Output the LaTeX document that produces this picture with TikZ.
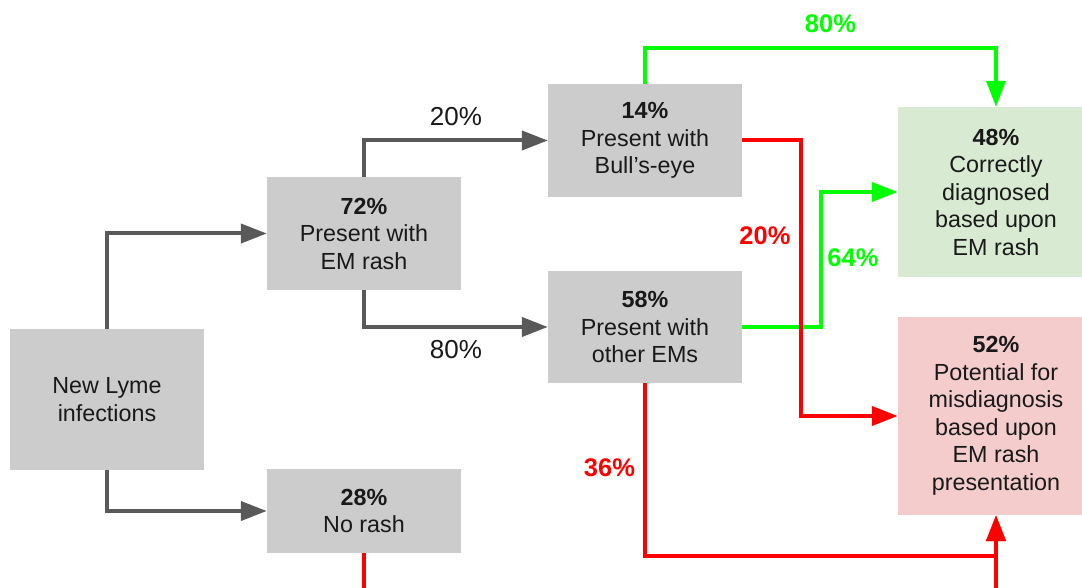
\documentclass[tikz,border=0pt]{standalone}
\usepackage{fontspec}
\setmainfont{Liberation Sans}
\usetikzlibrary{arrows.meta}
\definecolor{boxgray}{HTML}{CCCCCC}
\definecolor{boxgreen}{HTML}{D9EAD3}
\definecolor{boxpink}{HTML}{F4CCCC}
\definecolor{lingray}{HTML}{595959}
\definecolor{lingreen}{HTML}{00FF00}
\definecolor{linred}{HTML}{FF0000}
\tikzset{
  box/.style={fill=boxgray, draw=none, inner sep=0pt, align=center,
    font=\fontsize{23.3}{27.5}\selectfont, text=black!90},
  conn/.style={line width=4pt, -{Triangle[length=26pt,width=19pt]}},
  grayconn/.style={conn, draw=lingray},
  greenconn/.style={conn, draw=lingreen},
  redconn/.style={conn, draw=linred},
  lbl/.style={font=\fontsize{26}{30}\selectfont, text=black!90},
  blbl/.style={font=\fontsize{25.5}{30}\selectfont\bfseries},
}
\begin{document}
\begin{tikzpicture}[x=1pt,y=-1pt]
\useasboundingbox (0,0) rectangle (1082,588);
\clip (0,0) rectangle (1082,588);
\fill[white] (0,0) rectangle (1082,588);

\node[box, minimum width=194pt, minimum height=141pt] (lyme) at (107,399.5) {New Lyme\\infections};
\node[box, minimum width=194pt, minimum height=113pt] (em) at (364,233.5) {\textbf{72\%}\\Present with\\EM rash};
\node[box, minimum width=194pt, minimum height=84pt] (norash) at (364,511) {\textbf{28\%}\\No rash};
\node[box, minimum width=194pt, minimum height=113pt] (bull) at (645,140.5) {\textbf{14\%}\\Present with\\Bull’s-eye};
\node[box, minimum width=194pt, minimum height=112pt] (other) at (645,327) {\textbf{58\%}\\Present with\\other EMs};
\node[box, fill=boxgreen, minimum width=196pt, minimum height=170pt] (correct) at (996,192) {\textbf{48\%}\\Correctly\\diagnosed\\based upon\\EM rash};
\node[box, fill=boxpink, minimum width=196pt, minimum height=198pt] (misdiag) at (996,416) {\textbf{52\%}\\Potential for\\misdiagnosis\\based upon\\EM rash\\presentation};

\coordinate (gtop) at (0,48);
\coordinate (rx) at (801,0);
\coordinate (gx) at (821,0);
\coordinate (rlow) at (0,556);
\coordinate (rbot) at (0,590);

\draw[grayconn] (lyme.north) |- (em.west);
\draw[grayconn] (lyme.south) |- (norash.west);
\draw[grayconn] (em.north) |- (bull.west);
\draw[grayconn] (em.south) |- (other.west);

\draw[greenconn] (bull.north) -- (bull.north |- gtop) -| (correct.north);
\draw[greenconn] (other.east) -- (other.east -| gx) |- (correct.west);
\draw[redconn] (bull.east) -- (bull.east -| rx) |- (misdiag.west);
\draw[redconn] (other.south) -- (other.south |- rlow) -| (misdiag.south);
\draw[redconn] (norash.south) -- (norash.south |- rbot) -| (misdiag.south);

\node[lbl] (l20) at (456,117) {20\%};
\node[lbl] (l80) at (456,350) {80\%};
\node[blbl, text=lingreen] (g80) at (830.5,24) {80\%};
\node[blbl, text=linred] (r20) at (765,236) {20\%};
\node[blbl, text=lingreen] (g64) at (853,258) {64\%};
\node[blbl, text=linred] (r36) at (609.5,467.5) {36\%};
\end{tikzpicture}
\end{document}
